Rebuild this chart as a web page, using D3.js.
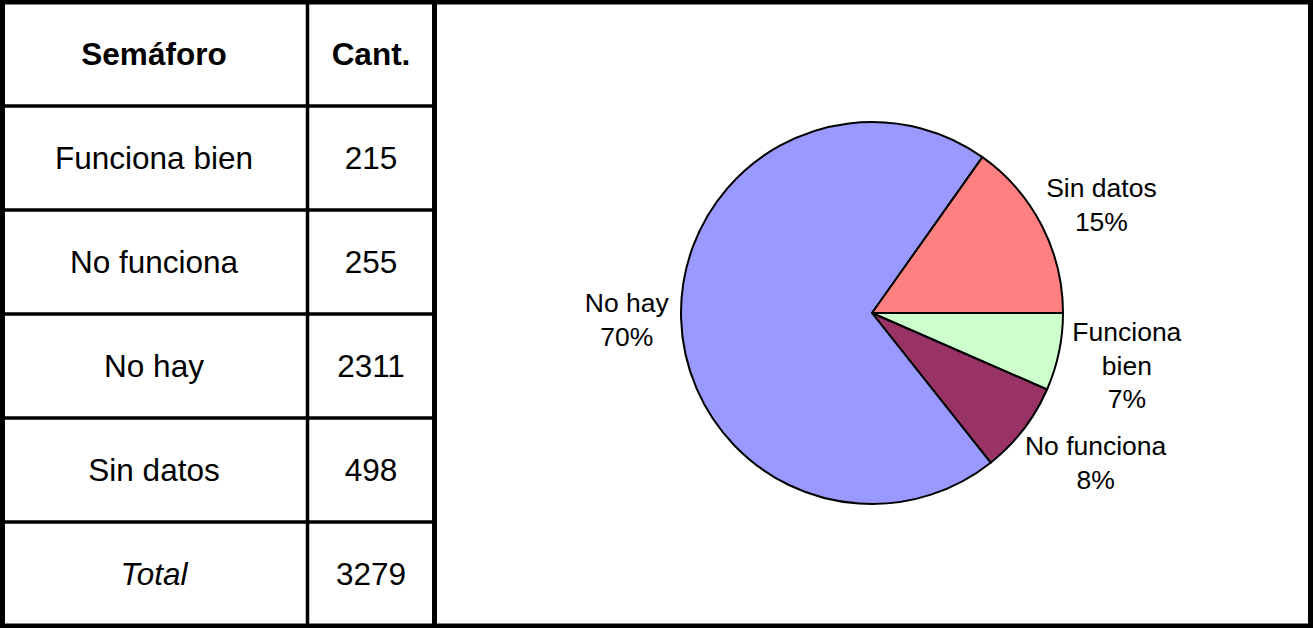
<!DOCTYPE html>
<html>
<head>
<meta charset="utf-8">
<script src="https://cdn.jsdelivr.net/npm/d3@7"></script>
<style>
	body { margin: 0; background: #fff; }
	svg { display: block; font-family: "Liberation Sans", Arial, sans-serif; }
</style>
</head>
<body>
<svg id="chart"></svg>
<script>
// table data
var headers = ['Semáforo', 'Cant.'];
var categories = ['Funciona bien', 'No funciona', 'No hay', 'Sin datos'];
var counts = [215, 255, 2311, 498];
var totalLabel = 'Total';
// pie label lines (Excel wraps "Funciona bien")
var pieLabels = [['Funciona', 'bien'], ['No funciona'], ['No hay'], ['Sin datos']];
var colors = ['#CCFFCC', '#993366', '#9999FF', '#FF8080'];

var width = 1313, height = 628;

var svg = d3.select('#chart')
	.attr('width', width)
	.attr('height', height);

svg.append('rect')
	.attr('width', width)
	.attr('height', height)
	.attr('fill', '#fff');

//---- table ----
var rows = d3.range(categories.length + 2);
var y = d3.scaleBand().domain(rows).range([2, 626]);
var x = d3.scaleOrdinal().domain([0, 1]).range([154, 371]);
var fs = 31.5;

var table = svg.append('g').attr('class', 'table');

// row separators
table.selectAll('line.row')
	.data(rows.slice(1))
	.enter()
	.append('line')
	.attr('x1', 0)
	.attr('x2', 434)
	.attr('y1', function(d) { return y(d); })
	.attr('y2', function(d) { return y(d); })
	.attr('stroke', '#000')
	.attr('stroke-width', 3.5);

// column divider
table.append('line')
	.attr('x1', 307.5).attr('x2', 307.5)
	.attr('y1', 0).attr('y2', height)
	.attr('stroke', '#000')
	.attr('stroke-width', 3.5);

var cells = [];
cells.push({r: 0, c: 0, t: headers[0], bold: true});
cells.push({r: 0, c: 1, t: headers[1], bold: true});
for(var i = 0; i < categories.length; i++)
{
	cells.push({r: i + 1, c: 0, t: categories[i]});
	cells.push({r: i + 1, c: 1, t: counts[i]});
}
cells.push({r: categories.length + 1, c: 0, t: totalLabel, italic: true});
cells.push({r: categories.length + 1, c: 1, t: d3.sum(counts)});

table.selectAll('text')
	.data(cells)
	.enter()
	.append('text')
	.attr('x', function(d) { return x(d.c); })
	.attr('y', function(d) { return y(d.r) + y.bandwidth() / 2 + fs * 0.36; })
	.attr('text-anchor', 'middle')
	.attr('font-size', fs)
	.attr('font-weight', function(d) { return d.bold ? 'bold' : 'normal'; })
	.attr('font-style', function(d) { return d.italic ? 'italic' : 'normal'; })
	.text(function(d) { return d.t; });

// thick divider between table and chart
svg.append('line')
	.attr('x1', 434.5).attr('x2', 434.5)
	.attr('y1', 0).attr('y2', height)
	.attr('stroke', '#000')
	.attr('stroke-width', 5);

//---- pie ----
var cx = 872, cy = 313, r = 191;
var total = d3.sum(counts);

var pie = d3.pie()
	.sort(null)
	.startAngle(Math.PI / 2)
	.endAngle(Math.PI / 2 + 2 * Math.PI);

var arc = d3.arc().innerRadius(0).outerRadius(r);

var g = svg.append('g')
	.attr('transform', 'translate(' + cx + ',' + cy + ')');

var arcs = pie(counts);

g.selectAll('path')
	.data(arcs)
	.enter()
	.append('path')
	.attr('d', arc)
	.attr('fill', function(d, i) { return colors[i]; })
	.attr('stroke', '#000')
	.attr('stroke-width', 2)
	.attr('stroke-linejoin', 'round');

var pct = d3.format('.0%');
var lfs = 26.5, lh = 33.5, gap = 12;

arcs.forEach(function(d, i)
{
	var lines = pieLabels[i].concat([pct(d.value / total)]);
	var lab = g.append('text')
		.attr('text-anchor', 'middle')
		.attr('font-size', lfs);
	lines.forEach(function(l)
	{
		lab.append('tspan').attr('x', 0).text(l);
	});
	var w = d3.max(lab.selectAll('tspan').nodes(), function(n) { return n.getComputedTextLength(); });
	var h = lines.length * lh;
	var a = (d.startAngle + d.endAngle) / 2;
	// lower labels sit a bit further out
	var off = r + gap + Math.max(0, -Math.cos(a)) * 14;
	var ax = Math.sin(a) * off, ay = -Math.cos(a) * off;
	var mx = ax + Math.sin(a) * w / 2;
	var my = ay - Math.cos(a) * h / 2;
	lab.selectAll('tspan')
		.attr('x', mx)
		.attr('y', function(l, j) { return my - h / 2 + lh * j + lh / 2 + lfs * 0.36; });
});

// outer frame
svg.append('rect')
	.attr('x', 2.5).attr('y', 2)
	.attr('width', width - 5).attr('height', height - 4)
	.attr('fill', 'none')
	.attr('stroke', '#000')
	.attr('stroke-width', 5);
</script>
</body>
</html>
